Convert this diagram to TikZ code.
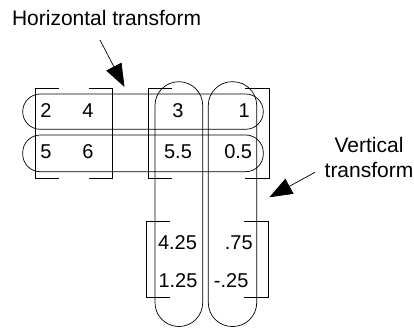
\documentclass[tikz,border=0pt]{standalone}
\usepackage{fontspec}
\setmainfont{Liberation Sans}
\usetikzlibrary{arrows.meta}

% square bracket pair of a matrix: left, top, right, bottom
\newcommand{\matbracket}[4]{%
  \draw (#1+24,#2) -- (#1,#2) -- (#1,#4) -- (#1+24,#4);
  \draw (#3-24,#2) -- (#3,#2) -- (#3,#4) -- (#3-24,#4);
}

\begin{document}
\begin{tikzpicture}[x=1pt, y=-1pt, line width=0.7pt]
  \tikzset{
    val/.style={inner sep=0pt, font=\fontsize{20}{24}\selectfont},
    note/.style={inner sep=0pt, font=\fontsize{21}{25}\selectfont, align=center},
    row_loop/.style={draw, rounded corners=17.6pt},
    col_loop/.style={draw, rounded corners=23.8pt},
    big_arrow/.style={draw, -{Triangle[length=23pt, width=17pt]}}
  }
  \useasboundingbox (0,0) rectangle (414,327);

  % Brackets of the three matrices
  \matbracket{35}{88.3}{112.7}{178.3}
  \matbracket{148.3}{88.3}{269}{178.3}
  \matbracket{146}{221}{268.3}{297.3}

  % Rows (horizontal loops)
  \path[row_loop] (22.7,94) rectangle (263.3,129.3);
  \path[row_loop] (22.7,135) rectangle (263.3,171.7);

  % Columns (vertical loops)
  \path[col_loop] (155,81.7) rectangle (202.7,326.5);
  \path[col_loop] (208.3,81.7) rectangle (256.7,326.5);

  % Values
  \node[val] (a11) at (46,110.7) {2};
  \node[val] (a12) at (88,110.7) {4};
  \node[val] (a21) at (46,151.7) {5};
  \node[val] (a22) at (88,151.7) {6};

  \node[val] (b11) at (178,110.7) {3};
  \node[val] (b12) at (244.2,110.7) {1};
  \node[val] (b21) at (178,151.7) {5.5};
  \node[val] (b22) at (238.2,151.7) {0.5};

  \node[val] (c11) at (177.5,242.7) {4.25};
  \node[val] (c12) at (238.8,242.7) {.75};
  \node[val] (c21) at (178,280.7) {1.25};
  \node[val] (c22) at (231.2,280.7) {-.25};

  % Labels and arrows
  \node[note, anchor=west] (hlabel) at (11.7,18.3) {Horizontal transform};
  \node[note] (vlabel) at (369,157.5) {Vertical\\transform};

  \coordinate (hstart) at (100,40);
  \coordinate (htip) at (124.5,87);
  \coordinate (vstart) at (315,172.3);
  \coordinate (vtip) at (269.3,197.3);

  \draw[big_arrow] (hstart) -- (htip);
  \draw[big_arrow] (vstart) -- (vtip);
\end{tikzpicture}
\end{document}
